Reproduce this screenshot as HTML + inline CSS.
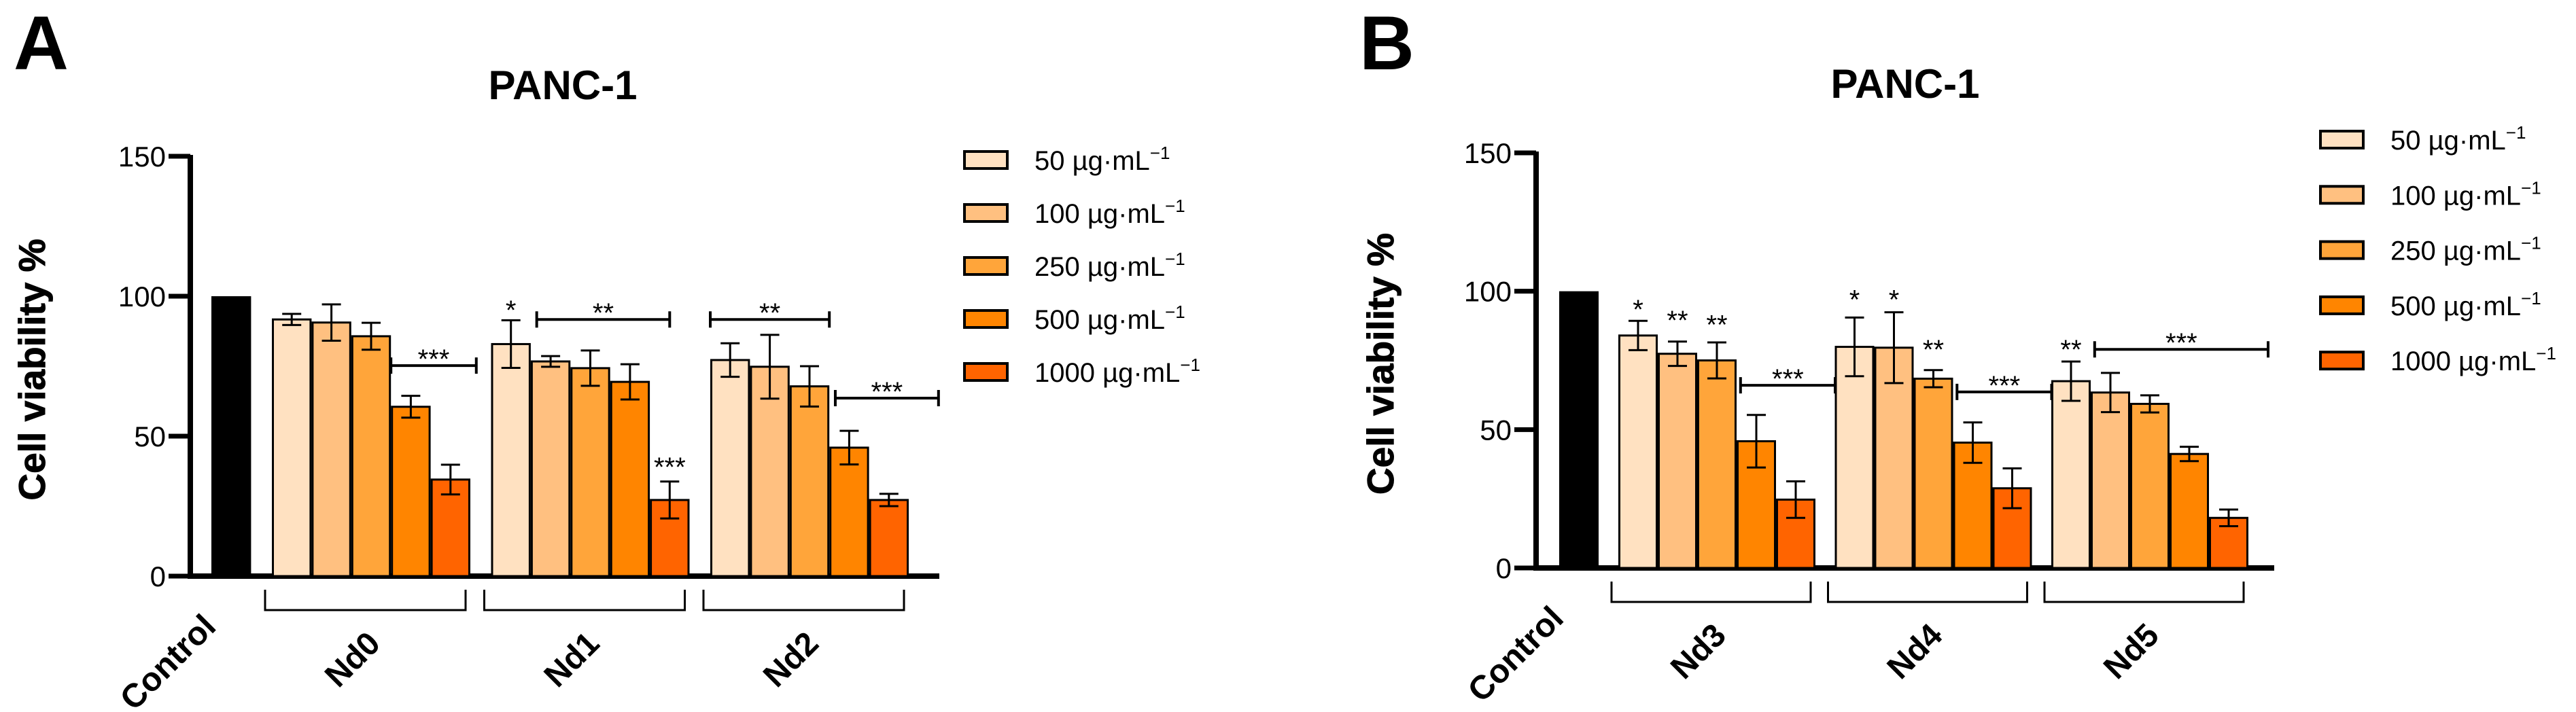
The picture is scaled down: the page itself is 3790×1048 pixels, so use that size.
<!DOCTYPE html>
<html><head><meta charset="utf-8"><style>
html,body{margin:0;padding:0;background:#fff;overflow:hidden}
svg{display:block}
text{font-family:"Liberation Sans",Arial,sans-serif}
</style></head><body>
<svg id="fig" width="3790" height="1048" viewBox="0 0 3790 1048" xmlns="http://www.w3.org/2000/svg"></svg>
<script>
const colors = ["#FFE1C1","#FFC080","#FFA53A","#FF8500","#FF6400"];
const legendLabels = ["50","100","250","500","1000"];
const tickValues = [0,50,100,150];
const controlValue = 100;
// Panel A
const groupsA = ["Nd0","Nd1","Nd2"];
const meansA = [[91.7,90.6,85.7,60.5,34.5],[82.9,76.7,74.3,69.4,27.2],[77.2,74.8,67.8,45.9,27.2]];
const errsA  = [[2,6.5,4.8,3.9,5.3],[8.5,1.9,6.3,6.3,6.6],[6,11.4,7.2,6,2.2]];
// annotations: [group, barFrom, barTo, value, label]
const annA = [[0,3,4.15,75.2,"***"],[1,0,0,98,"*"],[1,1.15,3.5,91.7,"**"],[1,4,4,42,"***"],[2,0,2,91.7,"**"],[2,3.15,4.75,63.6,"***"]];
// Panel B
const groupsB = ["Nd3","Nd4","Nd5"];
const meansB = [[84,77.4,75,45.8,24.7],[79.9,79.6,68.4,45.3,28.8],[67.5,63.4,59.3,41.2,18.1]];
const errsB  = [[5.3,4.4,6.5,9.5,6.6],[10.6,12.8,3.1,7.3,7.2],[7.1,7.1,3.1,2.6,3]];
const annB = [[0,0,0,96.5,"*"],[0,1,1,92.5,"**"],[0,2,2,91,"**"],[0,3.1,4.5,66,"***"],[1,0,0,100,"*"],[1,1,1,100,"*"],[1,2,2,82,"**"],[1,3.1,4.5,63.6,"***"],[2,0,0,82,"**"],[2,1.1,4.5,79,"***"]];

const NS="http://www.w3.org/2000/svg";
const svg=document.getElementById('fig');
function mk(tag,attrs,parent,txt){const e=document.createElementNS(NS,tag);for(const k in attrs)e.setAttribute(k,attrs[k]);if(txt!==undefined)e.textContent=txt;(parent||svg).appendChild(e);return e;}

function panel(cfg){
  const g=mk('g',{});
  
  
  const y=v=>cfg.y0-(cfg.y0-cfg.y150)*v/150;
  const bw=cfg.bw;
  const barX=(gi,bi)=>cfg.g0+gi*cfg.gstep+bi*bw;
  let t=mk('text',{x:cfg.letterX,y:102,'font-size':112,'font-weight':'bold'},g,cfg.letter);
  
  
  t=mk('text',{x:cfg.titleX,y:cfg.titleY,'font-size':60,'font-weight':'bold','text-anchor':'middle'},g,'PANC-1');
  
  
  t=mk('text',{x:0,y:0,'font-size':55,'font-weight':'bold','text-anchor':'middle',stroke:'#000','stroke-width':1,transform:`translate(${cfg.ylabX},${(cfg.y0+cfg.y150)/2+5}) rotate(-90)`},g,'Cell viability %');
  
  
  let a=mk('line',{x1:cfg.ax,y1:cfg.y150-2,x2:cfg.ax,y2:cfg.y0+4,stroke:'#000','stroke-width':8},g);
  
  
  a=mk('line',{x1:cfg.ax-4,y1:cfg.y0,x2:cfg.axEnd,y2:cfg.y0,stroke:'#000','stroke-width':8},g);
  
  
  tickValues.forEach(v=>{
    const tk=mk('line',{x1:cfg.ax-32,y1:y(v),x2:cfg.ax,y2:y(v),stroke:'#000','stroke-width':7},g);
    
    
    const tl=mk('text',{x:cfg.ax-36,y:y(v)+15,'font-size':42,'text-anchor':'end'},g,String(v));
    
    
  });
  const c=mk('rect',{x:cfg.cx,y:y(controlValue),width:bw,height:y(0)-y(controlValue),fill:'#000'},g);
  
  
  t=mk('text',{x:0,y:0,'font-size':49,'font-weight':'bold','text-anchor':'end',transform:`translate(${cfg.cx+bw/2-20},${cfg.y0+77}) rotate(-45)`},g,'Control');
  
  
  cfg.groups.forEach((name,gi)=>{
    cfg.means[gi].forEach((m,bi)=>{
      const x=barX(gi,bi);
      const r=mk('rect',{x:x+1.5,y:y(m),width:bw-3,height:y(0)-y(m),fill:colors[bi],stroke:'#000','stroke-width':3},g);
      
      
      const e=cfg.errs[gi][bi],cxm=x+bw/2;
      const eb=mk('path',{d:`M${cxm},${y(m+e)}V${y(m-e)}M${cxm-14},${y(m+e)}H${cxm+14}M${cxm-14},${y(m-e)}H${cxm+14}`,stroke:'#000','stroke-width':3,fill:'none'},g);
      
      
    });
    const gx0=barX(gi,0)-10,gx1=barX(gi,5)-7;
    const br=mk('path',{d:`M${gx0},${cfg.y0+20}V${cfg.y0+50}H${gx1}V${cfg.y0+20}`,stroke:'#000','stroke-width':3,fill:'none'},g);
    
    
    const lbl=mk('text',{x:0,y:0,'font-size':48,'font-weight':'bold','text-anchor':'end',transform:`translate(${barX(gi,2.5)+16},${cfg.y0+102}) rotate(-45)`},g,name);
    
    
  });
  cfg.ann.forEach(an=>{
    const [gi,b0,b1,v,lab]=an;
    const yy=y(v);
    if(b0===b1){const tx=barX(gi,b0)+bw/2;
      const s=mk('text',{x:tx,y:yy+26,'font-size':40,'text-anchor':'middle'},g,lab);
      
      
    } else {
      const x0=barX(gi,b0),x1=barX(gi,b1)+bw;
      const p=mk('path',{d:`M${x0},${yy-12}V${yy+12}M${x0},${yy}H${x1}M${x1},${yy-12}V${yy+12}`,stroke:'#000','stroke-width':4,fill:'none'},g);
      
      
      const s=mk('text',{x:(x0+x1)/2,y:yy+4,'font-size':40,'text-anchor':'middle'},g,lab);
      
      
    }
  });
  legendLabels.forEach((l,i)=>{
    const ly=cfg.legY+i*cfg.legStep;
    const sq=mk('rect',{x:cfg.legX,y:ly-12,width:63,height:25,fill:colors[i],stroke:'#000','stroke-width':4},g);
    
    
    const tx=mk('text',{x:cfg.legX+103,y:ly+15,'font-size':40},g);
    
    
    tx.textContent=l+' \u00b5g\u00b7mL';
    mk('tspan',{'font-size':26,dy:-16},tx,'\u22121');
  });
}
panel({letter:'A',letterX:20,titleX:828,titleY:146,ylabX:66,ax:280,axEnd:1382,y0:848,y150:230,bw:58.4,cx:311,g0:400,gstep:322.5,groups:groupsA,means:meansA,errs:errsA,ann:annA,legX:1419,legY:235,legStep:78});
panel({letter:'B',letterX:2000,titleX:2803,titleY:144,ylabX:2050,ax:2260,axEnd:3346,y0:836,y150:225,bw:58,cx:2294,g0:2381,gstep:318.5,groups:groupsB,means:meansB,errs:errsB,ann:annB,legX:3414,legY:205,legStep:81.3});
</script>
</body></html>
